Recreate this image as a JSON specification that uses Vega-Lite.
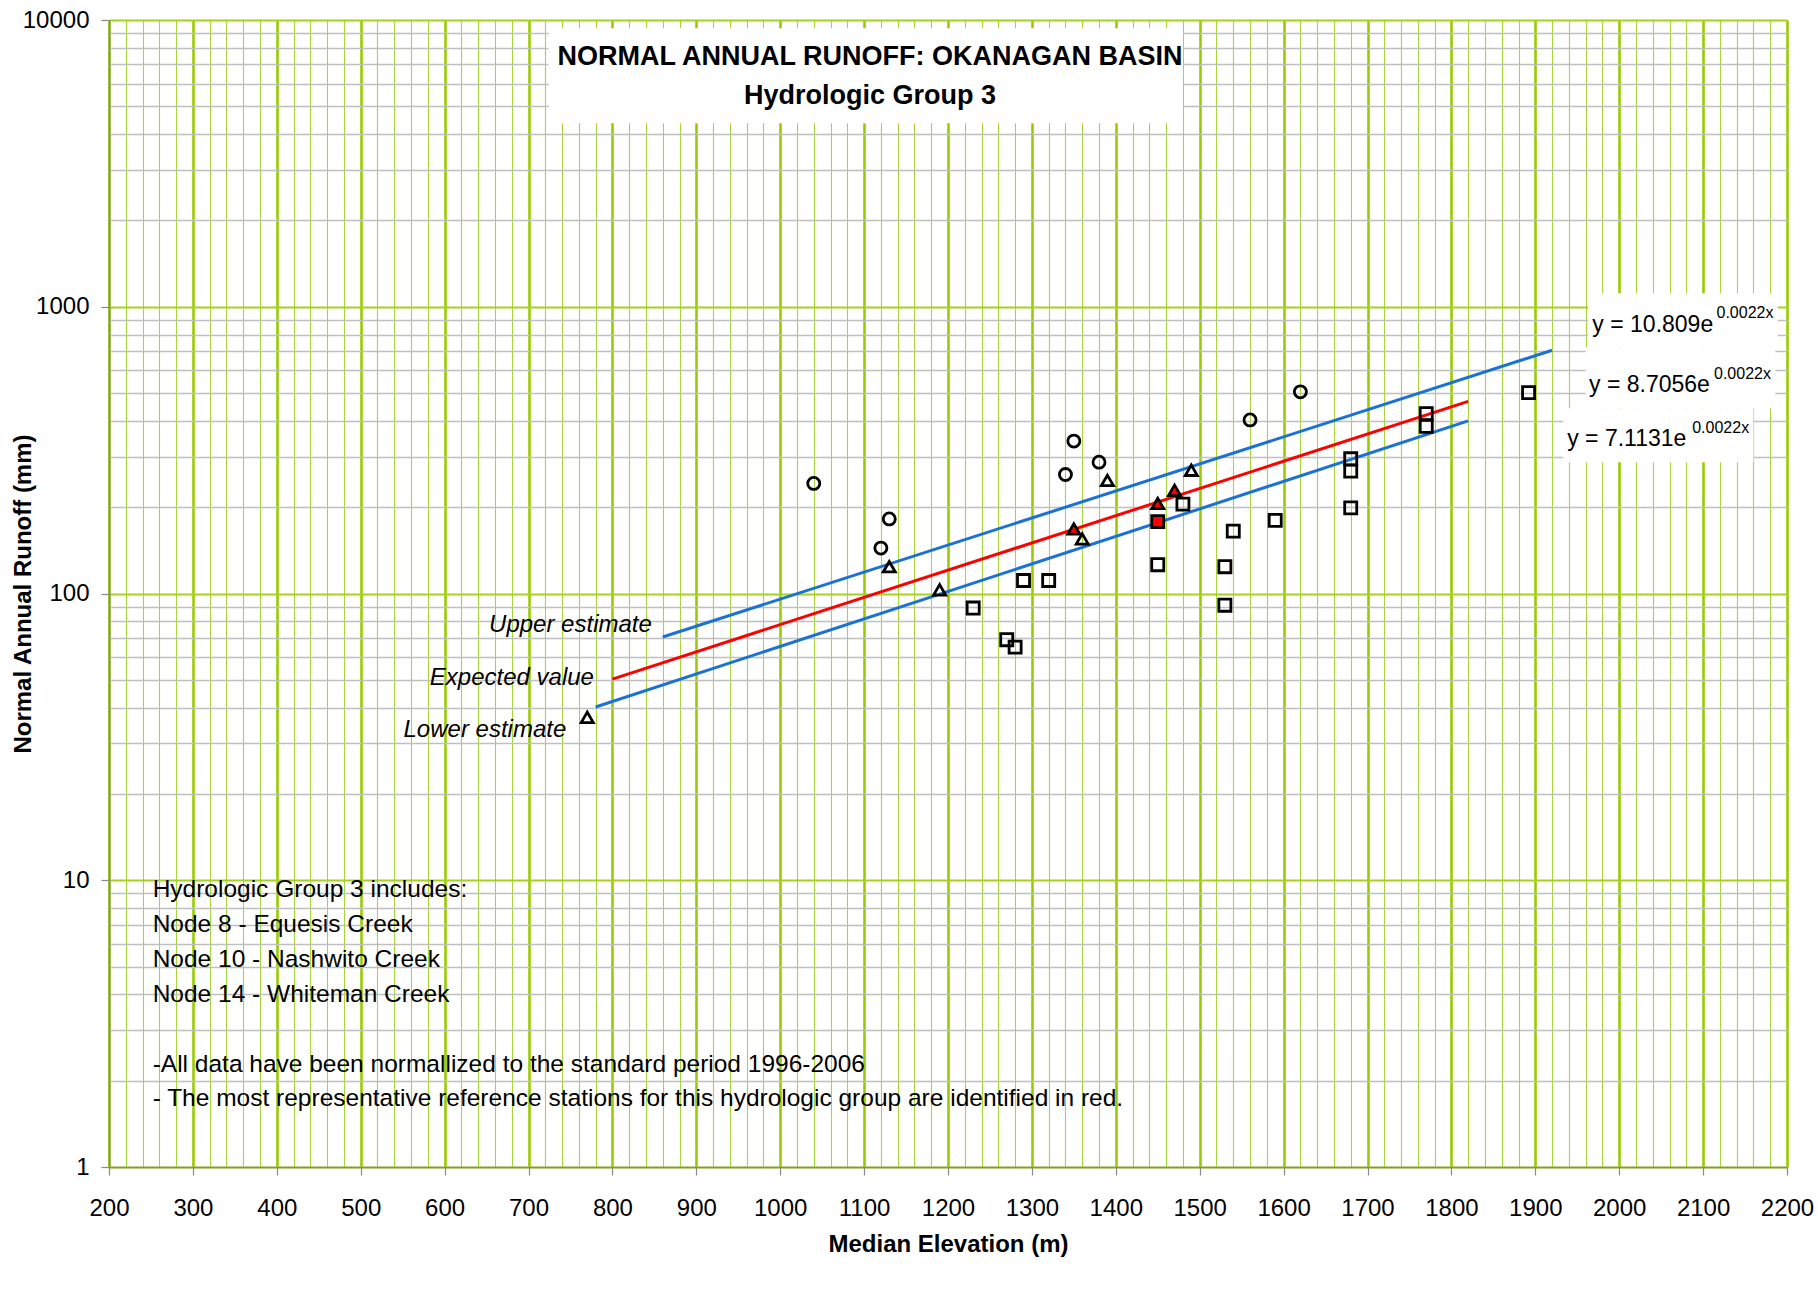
{
  "$schema": "https://vega.github.io/schema/vega-lite/v6.json",
  "width": 1678,
  "height": 1147,
  "autosize": {"type": "none"},
  "padding": {"left": 109, "top": 20, "right": 31, "bottom": 124},
  "background": "white",
  "config": {
    "view": {"stroke": null},
    "font": "Liberation Sans, Arial, sans-serif"
  },
  "datasets": {
    "stations": [
      {"elevation": 1040, "runoff": 242, "series": "Series 1", "reference": "no"},
      {"elevation": 1120, "runoff": 144, "series": "Series 1", "reference": "no"},
      {"elevation": 1130, "runoff": 182, "series": "Series 1", "reference": "no"},
      {"elevation": 1340, "runoff": 260, "series": "Series 1", "reference": "no"},
      {"elevation": 1350, "runoff": 340, "series": "Series 1", "reference": "no"},
      {"elevation": 1380, "runoff": 287, "series": "Series 1", "reference": "no"},
      {"elevation": 1560, "runoff": 403, "series": "Series 1", "reference": "no"},
      {"elevation": 1620, "runoff": 505, "series": "Series 1", "reference": "no"},
      {"elevation": 770, "runoff": 37, "series": "Series 2", "reference": "no"},
      {"elevation": 1130, "runoff": 124, "series": "Series 2", "reference": "no"},
      {"elevation": 1190, "runoff": 103, "series": "Series 2", "reference": "no"},
      {"elevation": 1350, "runoff": 168, "series": "Series 2", "reference": "yes"},
      {"elevation": 1360, "runoff": 155, "series": "Series 2", "reference": "no"},
      {"elevation": 1390, "runoff": 248, "series": "Series 2", "reference": "no"},
      {"elevation": 1450, "runoff": 206, "series": "Series 2", "reference": "yes"},
      {"elevation": 1470, "runoff": 229, "series": "Series 2", "reference": "yes"},
      {"elevation": 1490, "runoff": 269, "series": "Series 2", "reference": "no"},
      {"elevation": 1230, "runoff": 89, "series": "Series 3", "reference": "no"},
      {"elevation": 1270, "runoff": 69, "series": "Series 3", "reference": "no"},
      {"elevation": 1280, "runoff": 65, "series": "Series 3", "reference": "no"},
      {"elevation": 1290, "runoff": 111, "series": "Series 3", "reference": "no"},
      {"elevation": 1320, "runoff": 111, "series": "Series 3", "reference": "no"},
      {"elevation": 1450, "runoff": 178, "series": "Series 3", "reference": "yes"},
      {"elevation": 1450, "runoff": 126, "series": "Series 3", "reference": "no"},
      {"elevation": 1480, "runoff": 205, "series": "Series 3", "reference": "no"},
      {"elevation": 1530, "runoff": 124, "series": "Series 3", "reference": "no"},
      {"elevation": 1530, "runoff": 91, "series": "Series 3", "reference": "no"},
      {"elevation": 1540, "runoff": 165, "series": "Series 3", "reference": "no"},
      {"elevation": 1590, "runoff": 180, "series": "Series 3", "reference": "no"},
      {"elevation": 1680, "runoff": 295, "series": "Series 3", "reference": "no"},
      {"elevation": 1680, "runoff": 267, "series": "Series 3", "reference": "no"},
      {"elevation": 1680, "runoff": 199, "series": "Series 3", "reference": "no"},
      {"elevation": 1770, "runoff": 424, "series": "Series 3", "reference": "no"},
      {"elevation": 1770, "runoff": 383, "series": "Series 3", "reference": "no"},
      {"elevation": 1892, "runoff": 502, "series": "Series 3", "reference": "no"}
    ],
    "curves": [
      {"curve": "Upper estimate", "elevation": 860, "runoff": 70.5},
      {"curve": "Upper estimate", "elevation": 1920, "runoff": 705},
      {"curve": "Expected value", "elevation": 800, "runoff": 50.3},
      {"curve": "Expected value", "elevation": 1820, "runoff": 468},
      {"curve": "Lower estimate", "elevation": 780, "runoff": 40.2},
      {"curve": "Lower estimate", "elevation": 1820, "runoff": 400}
    ],
    "boxes": [
      {"x1": 724, "x2": 1480, "y1": 4365, "y2": 9360},
      {"x1": 1963, "x2": 2189, "y1": 722, "y2": 1114},
      {"x1": 1960, "x2": 2186, "y1": 443, "y2": 722},
      {"x1": 1933, "x2": 2160, "y1": 287, "y2": 443}
    ],
    "titles": [
      {"label": "NORMAL ANNUAL RUNOFF: OKANAGAN BASIN", "elevation": 1107, "runoff": 6957},
      {"label": "Hydrologic Group 3", "elevation": 1107, "runoff": 5074}
    ],
    "equations": [
      {"label": "y = 10.809e", "elevation": 1968, "runoff": 817},
      {"label": "y = 8.7056e", "elevation": 1964, "runoff": 505},
      {"label": "y = 7.1131e", "elevation": 1938, "runoff": 326}
    ],
    "exponents": [
      {"label": "0.0022x", "elevation": 2116, "runoff": 917},
      {"label": "0.0022x", "elevation": 2113, "runoff": 562},
      {"label": "0.0022x", "elevation": 2087, "runoff": 363}
    ],
    "curvelabels": [
      {"label": "Upper estimate", "elevation": 847, "runoff": 73.4},
      {"label": "Expected value", "elevation": 778, "runoff": 47.8},
      {"label": "Lower estimate", "elevation": 745, "runoff": 31.6}
    ],
    "notes": [
      {"label": "Hydrologic Group 3 includes:", "elevation": 252, "runoff": 8.74},
      {"label": "Node 8 - Equesis Creek", "elevation": 252, "runoff": 6.6},
      {"label": "Node 10 - Nashwito Creek", "elevation": 252, "runoff": 4.98},
      {"label": "Node 14 - Whiteman Creek", "elevation": 252, "runoff": 3.76},
      {"label": "-All data have been normallized to the standard period 1996-2006", "elevation": 252, "runoff": 2.14},
      {"label": "- The most representative reference stations for this hydrologic group are identified in red.", "elevation": 252, "runoff": 1.63}
    ]
  },
  "layer": [
    {
      "data": {"name": "stations"},
      "mark": {"type": "point", "opacity": 0},
      "encoding": {
        "x": {
          "field": "elevation", "type": "quantitative",
          "scale": {"domain": [200, 2200], "nice": false, "zero": false},
          "axis": {
            "title": "Median Elevation (m)",
            "values": [200,220,240,260,280,300,320,340,360,380,400,420,440,460,480,500,520,540,560,580,600,620,640,660,680,700,720,740,760,780,800,820,840,860,880,900,920,940,960,980,1000,1020,1040,1060,1080,1100,1120,1140,1160,1180,1200,1220,1240,1260,1280,1300,1320,1340,1360,1380,1400,1420,1440,1460,1480,1500,1520,1540,1560,1580,1600,1620,1640,1660,1680,1700,1720,1740,1760,1780,1800,1820,1840,1860,1880,1900,1920,1940,1960,1980,2000,2020,2040,2060,2080,2100,2120,2140,2160,2180,2200],
            "tickCount": 500,
            "format": "d",
            "labelExpr": "datum.value % 100 === 0 ? datum.label : ''",
            "labelOverlap": false,
            "labelBound": false,
            "labelFlush": false,
            "labelFontSize": 24,
            "labelColor": "#000000",
            "labelPadding": 21,
            "grid": true,
            "gridColor": {"condition": {"test": "datum.value % 100 === 0", "value": "#99CC00"}, "value": "#A9D43A"},
            "gridWidth": {"condition": {"test": "datum.value % 100 === 0", "value": 2.6}, "value": 1.1},
            "ticks": true,
            "tickColor": "#888888",
            "tickWidth": 1.2,
            "tickSize": {"condition": {"test": "datum.value % 100 === 0", "value": 8}, "value": 0},
            "domainColor": "#888888",
            "domainWidth": 1.6,
            "titleFontSize": 24,
            "titleFontWeight": "bold",
            "titleColor": "#000000",
            "titlePadding": 12
          }
        },
        "y": {
          "field": "runoff", "type": "quantitative",
          "scale": {"type": "log", "domain": [1, 10000], "nice": false},
          "axis": {
            "title": "Normal Annual Runoff (mm)",
            "values": [1,2,3,4,5,6,7,8,9,10,20,30,40,50,60,70,80,90,100,200,300,400,500,600,700,800,900,1000,2000,3000,4000,5000,6000,7000,8000,9000,10000],
            "tickCount": 500,
            "format": "d",
            "labelExpr": "indexof([1,10,100,1000,10000], datum.value) >= 0 ? datum.label : ''",
            "labelOverlap": false,
            "labelBound": false,
            "labelFlush": false,
            "labelFontSize": 24,
            "labelColor": "#000000",
            "labelPadding": 12,
            "grid": true,
            "gridColor": {"condition": {"test": "indexof([1,10,100,1000,10000], datum.value) >= 0", "value": "#A5D11F"}, "value": "#BFBFBF"},
            "gridWidth": {"condition": {"test": "indexof([1,10,100,1000,10000], datum.value) >= 0", "value": 2}, "value": 1.3},
            "ticks": true,
            "tickColor": "#888888",
            "tickWidth": 1.2,
            "tickSize": {"condition": {"test": "indexof([1,10,100,1000,10000], datum.value) >= 0", "value": 8}, "value": 0},
            "domainColor": "#888888",
            "domainWidth": 1.6,
            "titleFontSize": 24,
            "titleFontWeight": "bold",
            "titleColor": "#000000",
            "titlePadding": -13
          }
        }
      }
    },
    {
      "data": {"name": "boxes"},
      "mark": {"type": "rect", "fill": "white"},
      "encoding": {
        "x": {"field": "x1", "type": "quantitative"},
        "x2": {"field": "x2"},
        "y": {"field": "y1", "type": "quantitative"},
        "y2": {"field": "y2"}
      }
    },
    {
      "data": {"name": "curves"},
      "mark": {"type": "line", "strokeWidth": 3},
      "encoding": {
        "x": {"field": "elevation", "type": "quantitative"},
        "y": {"field": "runoff", "type": "quantitative"},
        "color": {
          "field": "curve", "type": "nominal",
          "scale": {"domain": ["Upper estimate", "Expected value", "Lower estimate"], "range": ["#1C72D4", "#FF0000", "#1C72D4"]},
          "legend": null
        },
        "order": {"field": "elevation"}
      }
    },
    {
      "data": {"name": "stations"},
      "mark": {"type": "point", "filled": false, "stroke": "#000000", "strokeWidth": 2.8, "size": 145, "opacity": 1},
      "encoding": {
        "x": {"field": "elevation", "type": "quantitative"},
        "y": {"field": "runoff", "type": "quantitative"},
        "shape": {
          "field": "series", "type": "nominal",
          "scale": {"domain": ["Series 1", "Series 2", "Series 3"], "range": ["circle", "triangle-up", "square"]},
          "legend": null
        },
        "fill": {
          "field": "reference", "type": "nominal",
          "scale": {"domain": ["yes", "no"], "range": ["#FF0000", "transparent"]},
          "legend": null
        }
      }
    },
    {
      "data": {"name": "titles"},
      "mark": {"type": "text", "align": "center", "baseline": "alphabetic", "fontSize": 27, "fontWeight": "bold", "color": "#000000"},
      "encoding": {
        "x": {"field": "elevation", "type": "quantitative"},
        "y": {"field": "runoff", "type": "quantitative"},
        "text": {"field": "label"}
      }
    },
    {
      "data": {"name": "equations"},
      "mark": {"type": "text", "align": "left", "baseline": "alphabetic", "fontSize": 23, "color": "#000000"},
      "encoding": {
        "x": {"field": "elevation", "type": "quantitative"},
        "y": {"field": "runoff", "type": "quantitative"},
        "text": {"field": "label"}
      }
    },
    {
      "data": {"name": "exponents"},
      "mark": {"type": "text", "align": "left", "baseline": "alphabetic", "fontSize": 16, "color": "#000000"},
      "encoding": {
        "x": {"field": "elevation", "type": "quantitative"},
        "y": {"field": "runoff", "type": "quantitative"},
        "text": {"field": "label"}
      }
    },
    {
      "data": {"name": "curvelabels"},
      "mark": {"type": "text", "align": "right", "baseline": "alphabetic", "fontSize": 24, "fontStyle": "italic", "color": "#000000"},
      "encoding": {
        "x": {"field": "elevation", "type": "quantitative"},
        "y": {"field": "runoff", "type": "quantitative"},
        "text": {"field": "label"}
      }
    },
    {
      "data": {"name": "notes"},
      "mark": {"type": "text", "align": "left", "baseline": "alphabetic", "fontSize": 24.5, "color": "#000000"},
      "encoding": {
        "x": {"field": "elevation", "type": "quantitative"},
        "y": {"field": "runoff", "type": "quantitative"},
        "text": {"field": "label"}
      }
    }
  ]
}
